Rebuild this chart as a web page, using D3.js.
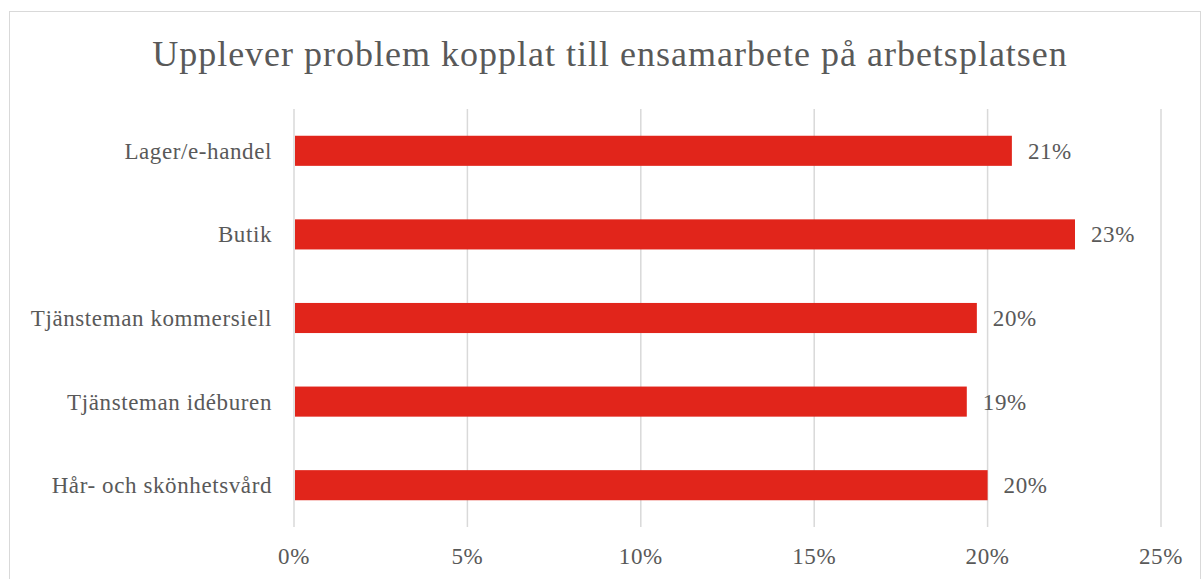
<!DOCTYPE html>
<html>
<head>
<meta charset="utf-8">
<script src="https://cdn.jsdelivr.net/npm/d3@7/dist/d3.min.js"></script>
<style>
  body { margin: 0; background: #fff; }
  svg text { font-family: "Liberation Serif", "DejaVu Serif", serif; fill: #595959; }
</style>
</head>
<body>
<div id="chart"></div>
<script>
const title = 'Upplever problem kopplat till ensamarbete på arbetsplatsen'
const categories = ['Lager/e-handel', 'Butik', 'Tjänsteman kommersiell', 'Tjänsteman idéburen', 'Hår- och skönhetsvård']
const values = [20.7, 22.52, 19.69, 19.4, 20.0]
const valueLabels = ['21%', '23%', '20%', '19%', '20%']
const ticks = [0, 5, 10, 15, 20, 25]

const width = 1202, height = 579
const margin = { top: 109, right: 41, bottom: 52, left: 294 }

const svg = d3.select('#chart')
.append('svg')
.attr('width', width)
.attr('height', height)

// outer chart frame
svg.append('rect')
.attr('x', 9.5).attr('y', 11.5)
.attr('width', width - 11).attr('height', height)
.attr('fill', 'none')
.attr('stroke', '#d9d9d9')

svg.append('text')
.attr('x', 610).attr('y', 66)
.attr('text-anchor', 'middle')
.style('font-size', '36px')
.style('letter-spacing', '1px')
.text(title)

let x = d3.scaleLinear()
.domain([0, 25])
.range([margin.left, width - margin.right])

let y = d3.scaleBand()
.domain(categories)
.range([margin.top, height - margin.bottom])
.paddingInner(0.64)
.paddingOuter(0.32)

const grid = svg.append('g')

grid.selectAll('line')
.data(ticks)
.enter()
.append('line')
.attr('x1', d => x(d)).attr('x2', d => x(d))
.attr('y1', margin.top).attr('y2', height - margin.bottom)
.attr('stroke', '#d9d9d9')
.attr('stroke-width', 1.5)

svg.append('g')
.selectAll('rect')
.data(values)
.enter()
.append('rect')
.attr('x', x(0) + 1)
.attr('y', (d, i) => y(categories[i]))
.attr('width', d => x(d) - x(0) - 1)
.attr('height', y.bandwidth())
.attr('fill', '#e1251b')

svg.append('g')
.selectAll('text')
.data(values)
.enter()
.append('text')
.attr('x', d => x(d) + 16)
.attr('y', (d, i) => y(categories[i]) + y.bandwidth() / 2)
.attr('dy', '0.35em')
.style('font-size', '23px')
.style('letter-spacing', '0.6px')
.text((d, i) => valueLabels[i])

svg.append('g')
.selectAll('text')
.data(categories)
.enter()
.append('text')
.attr('x', margin.left - 22)
.attr('y', d => y(d) + y.bandwidth() / 2)
.attr('dy', '0.35em')
.attr('text-anchor', 'end')
.style('font-size', '23px')
.style('letter-spacing', '0.6px')
.text(d => d)

svg.append('g')
.selectAll('text')
.data(ticks)
.enter()
.append('text')
.attr('x', d => x(d))
.attr('y', 556)
.attr('dy', '0.35em')
.attr('text-anchor', 'middle')
.style('font-size', '23px')
.style('letter-spacing', '0.6px')
.text(d => d + '%')
</script>
</body>
</html>
